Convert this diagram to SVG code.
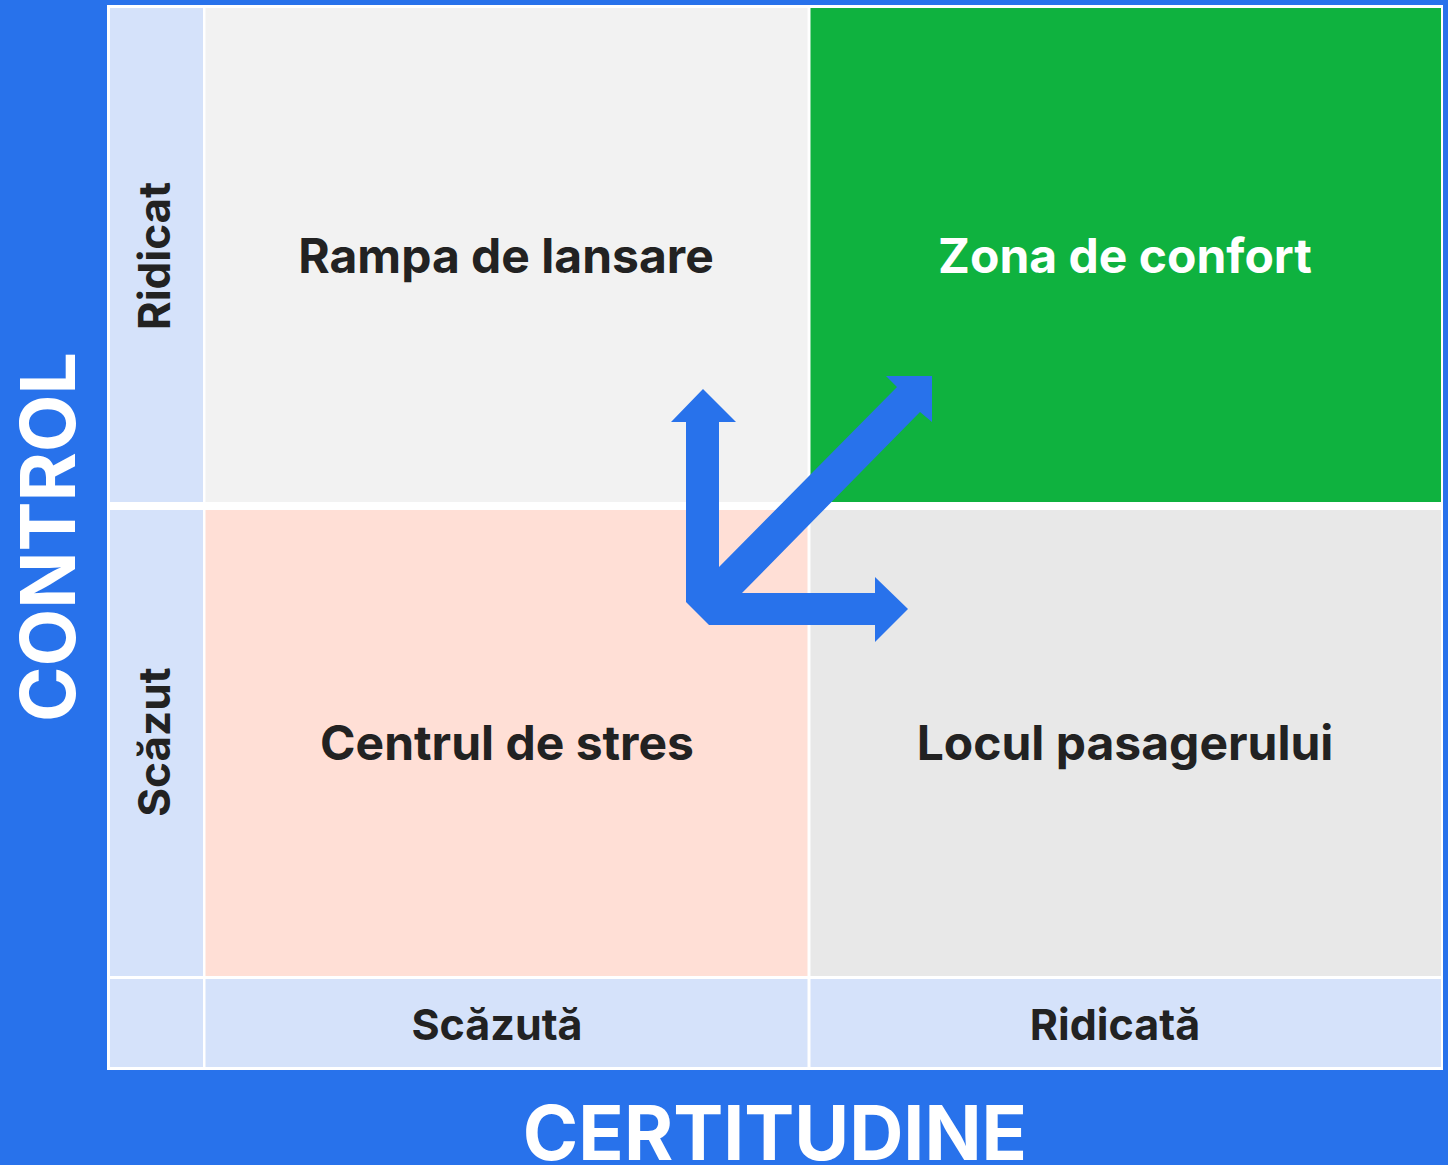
<svg xmlns="http://www.w3.org/2000/svg" width="1448" height="1165" viewBox="0 0 1448 1165">
<style>
.lbl{font-family:Inter,"Liberation Sans",sans-serif;font-weight:700;font-size:43px;fill:#222222;text-anchor:middle}
.q{font-size:48px}
.ax{font-family:Inter,"Liberation Sans",sans-serif;font-weight:700;font-size:75px;fill:#ffffff;text-anchor:middle}
.side{fill:#d5e2fa}
</style>
<rect x="0" y="0" width="1448" height="1165" fill="#2872eb"/>
<rect x="107" y="5" width="1336" height="1065" fill="#ffffff"/>
<g id="side-col">
<rect class="side" x="110" y="8" width="93" height="494"/>
<rect class="side" x="110" y="510" width="93" height="466"/>
<rect class="side" x="110" y="979" width="93" height="88"/>
<text class="lbl" style="font-size:44px" transform="translate(170,256) rotate(-90)">Ridicat</text>
<text class="lbl" style="font-size:44px" transform="translate(170,742) rotate(-90)">Scăzut</text>
</g>
<g id="bottom-row">
<rect class="side" x="205.5" y="979" width="602" height="88"/>
<rect class="side" x="810.5" y="979" width="630.5" height="88"/>
<text class="lbl" x="497" y="1040">Scăzută</text>
<text class="lbl" x="1115" y="1040">Ridicată</text>
</g>
<g id="q-rampa">
<rect x="205.5" y="8" width="602" height="494" fill="#f2f2f2"/>
<text class="lbl q" x="506" y="273">Rampa de lansare</text>
</g>
<g id="q-zona">
<rect x="810.5" y="8" width="630.5" height="494" fill="#0fb23f"/>
<text class="lbl q" x="1125" y="273" style="fill:#ffffff">Zona de confort</text>
</g>
<g id="q-stres">
<rect x="205.5" y="510" width="602" height="466" fill="#ffdfd6"/>
<text class="lbl q" x="507" y="760">Centrul de stres</text>
</g>
<g id="q-pasager">
<rect x="810.5" y="510" width="630.5" height="466" fill="#e8e8e8"/>
<text class="lbl q" x="1125" y="760">Locul pasagerului</text>
</g>
<g id="connectors">
<polygon fill="#2872eb" points="703,389 736,422 719,422 719,567 897,387 886,376 932,376 932,422 920,412 742,593 875,593 875,577 908,609 875,642 875,625 709,625 686,602 686,422 671,422"/>
</g>
<text class="ax" transform="translate(75,537) rotate(-90)">CONTROL</text>
<text class="ax" x="775" y="1160">CERTITUDINE</text>
</svg>
